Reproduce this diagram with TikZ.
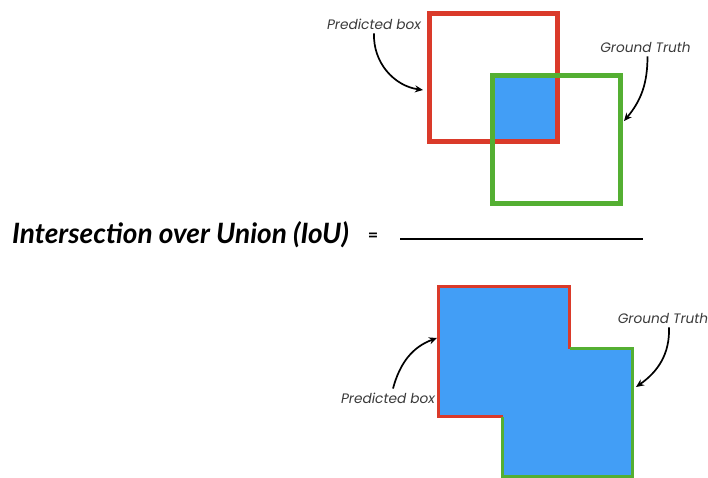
\documentclass[tikz,border=0pt]{standalone}
\usepackage{fontspec}
\usetikzlibrary{arrows.meta}
\newfontfamily\labfont{Poppins}
\newfontfamily\titlefont{Lato}
\definecolor{boxred}{HTML}{DA3A2A}
\definecolor{boxgreen}{HTML}{54AF32}
\definecolor{areablue}{HTML}{429EF6}
\definecolor{labgray}{HTML}{3A3A3A}
\begin{document}
\begin{tikzpicture}[x=1pt,y=-1pt,
  lab/.style={font=\labfont\itshape\fontsize{13.7}{15}\selectfont, text=labgray, inner sep=0pt},
  pointer/.style={line width=1.7pt, -{Stealth[length=8pt,width=7pt]}},
  thickred/.style={draw=boxred, line width=5pt, minimum width=128pt, minimum height=128pt, inner sep=0pt},
  thickgreen/.style={draw=boxgreen, line width=5pt, minimum width=128pt, minimum height=128pt, inner sep=0pt},
  edgered/.style={draw=boxred, line width=3pt, line join=miter},
  edgegreen/.style={draw=boxgreen, line width=3pt, line join=miter}]
\useasboundingbox (0,0) rectangle (708,478);
% top: intersection
\fill[areablue] (494,77) rectangle (557,140);
\node[thickred] (pred) at (493.5,77.5) {};
\node[thickgreen] (gt) at (556.5,139.5) {};
\node[lab] (plab) at (374,24) {Predicted box};
\node[lab] (glab) at (645.5,47) {Ground Truth};
\coordinate (ptip) at (423,90);
\coordinate (gtip) at (624,121);
\draw[pointer] (plab.south) ++(0,4) to[out=-92,in=172] (ptip);
\draw[pointer] (glab.south) ++(2,4) to[out=-90,in=50] (gtip);
% title
\node[font=\titlefont\bfseries\itshape\fontsize{28}{30}\selectfont, anchor=west, inner sep=0pt] (title) at (12,235) {Intersection over Union (IoU)};
\node[font=\titlefont\bfseries\fontsize{18}{20}\selectfont, inner sep=0pt] (eq) at (373,237) {=};
\coordinate (fracL) at (400,239);
\coordinate (fracR) at (643,239);
\draw[line width=1.5pt] (fracL) -- (fracR);
% bottom: union
\coordinate (u1) at (502.5,416.5);
\coordinate (u2) at (438.5,416.5);
\coordinate (u3) at (438.5,286.5);
\coordinate (u4) at (569.5,286.5);
\coordinate (u5) at (569.5,348.5);
\coordinate (u6) at (632.5,348.5);
\coordinate (u7) at (632.5,476);
\coordinate (u8) at (502.5,476);
\fill[areablue] (u1) -- (u2) -- (u3) -- (u4) -- (u5) -- (u6) -- (u7) -- (u8) -- cycle;
\draw[edgered] (u1) -- (u2) -- (u3) -- (u4) -- (u5);
\draw[edgegreen] (u5) -- (u6) -- (u7) -- (u8) -- (u1);
\node[lab] (plab2) at (388,398) {Predicted box};
\node[lab] (glab2) at (663,318) {Ground Truth};
\coordinate (ptip2) at (437,338);
\coordinate (gtip2) at (636,387);
\draw[pointer] (plab2.north) ++(5,-4) to[out=75,in=200] (ptip2);
\draw[pointer] (glab2.south) ++(6,4) to[out=-88,in=35] (gtip2);
\end{tikzpicture}
\end{document}
